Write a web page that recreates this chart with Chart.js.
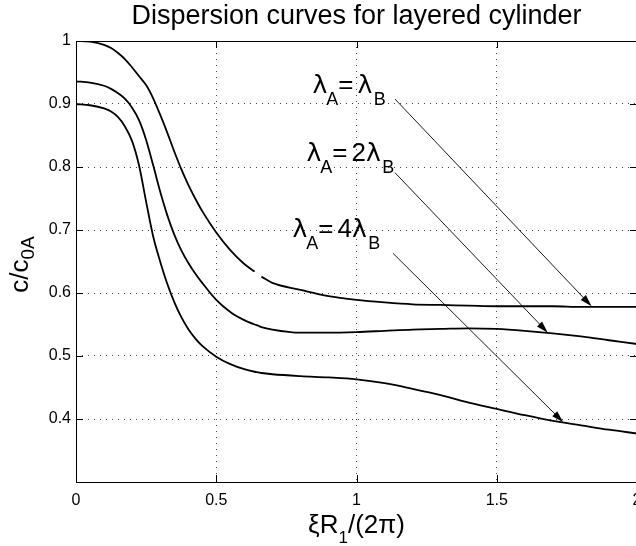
<!DOCTYPE html>
<html>
<head>
<meta charset="utf-8">
<script src="https://cdn.jsdelivr.net/npm/chart.js@4/dist/chart.umd.min.js"></script>
<style>
  html, body { margin: 0; padding: 0; background: #fff; overflow: hidden; }
  #wrap { position: absolute; left: 0; top: 0; width: 660px; height: 546px; }
  canvas { display: block; }
</style>
</head>
<body>
<div id="wrap"><canvas id="chart" width="660" height="546"></canvas></div>
<script>
// --- data ---
const xValues = [0, 0.05, 0.1, 0.125, 0.15, 0.175, 0.2, 0.225, 0.25, 0.275, 0.3, 0.325, 0.35, 0.375, 0.4, 0.425, 0.45,
                 0.5, 0.55, 0.6, 0.637, 0.65, 0.661, 0.7, 0.8, 0.9, 1.0, 1.1, 1.2, 1.3, 1.4, 1.5, 1.6, 1.7, 1.8, 1.9, 2.0];

// lambda_A = lambda_B (the plotted curve has a small break near 0.65)
const curveEqual = [1.000, 0.999, 0.994, 0.989, 0.981, 0.971, 0.958, 0.944, 0.930, 0.909, 0.883, 0.855, 0.825, 0.797, 0.772, 0.750, 0.730,
                    0.696, 0.668, 0.646, 0.634, null, 0.626, 0.616, 0.605, 0.595, 0.589, 0.585, 0.582, 0.581, 0.580, 0.579, 0.579, 0.579, 0.578, 0.578, 0.578];
// lambda_A = 2 lambda_B
const curveDouble = [0.936, 0.934, 0.929, 0.924, 0.917, 0.908, 0.894, 0.874, 0.843, 0.803, 0.761, 0.724, 0.693, 0.668, 0.648, 0.631, 0.616,
                     0.589, 0.570, 0.557, 0.550, 0.548, 0.546, 0.542, 0.537, 0.537, 0.538, 0.540, 0.542, 0.543, 0.544, 0.543, 0.540, 0.536, 0.531, 0.525, 0.519];
// lambda_A = 4 lambda_B
const curveQuad = [0.900, 0.898, 0.893, 0.888, 0.879, 0.864, 0.841, 0.802, 0.745, 0.690, 0.650, 0.615, 0.586, 0.562, 0.543, 0.528, 0.516,
                   0.499, 0.487, 0.479, 0.475, 0.474, 0.473, 0.471, 0.468, 0.466, 0.463, 0.457, 0.448, 0.438, 0.426, 0.416, 0.406, 0.397, 0.390, 0.383, 0.377];

const labelTexts = ['λA=λB', 'λA=2λB', 'λA=4λB'];
// where each label starts (data units) and where its arrow runs from / to
const labelAt = [[0.843, 0.9175], [0.822, 0.810], [0.772, 0.689]];
const arrowFrom = [[1.137, 0.908], [1.137, 0.791], [1.130, 0.663]];
const arrowTo = [[1.838, 0.579], [1.682, 0.537], [1.737, 0.395]];

const xTicks = [0, 0.5, 1, 1.5, 2];
const yTicks = [0.4, 0.5, 0.6, 0.7, 0.8, 0.9, 1];

const FONT = '"Liberation Sans", Arial, Helvetica, sans-serif';
const GREEK = '"DejaVu Sans", sans-serif';
Chart.defaults.font.family = FONT;
Chart.defaults.color = '#000';

function toPoints(ys) {
    return xValues.map((x, i) => ({ x: x, y: ys[i] }));
}

// draws text pieces side by side (size, baseline shift, extra gap before)
function drawRuns(ctx, runs, x, y, align) {
    let total = 0;
    runs.forEach(r => {
        ctx.font = r.size + 'px ' + (r.family || FONT);
        r.w = ctx.measureText(r.t).width;
        total += r.w + (r.gap || 0);
    });
    let cx = align === 'center' ? x - total / 2 : x;
    runs.forEach(r => {
        cx += r.gap || 0;
        ctx.font = r.size + 'px ' + (r.family || FONT);
        ctx.fillText(r.t, cx, y + (r.dy || 0));
        cx += r.w;
    });
}

function labelRuns(text) {
    let prev = '';
    return text.split('').map(ch => {
        let r;
        if (ch === 'A') r = { t: ch, size: 18, dy: 12, gap: -1 };
        else if (ch === 'B') r = { t: ch, size: 18, dy: 12, gap: 1.5 };
        else if (ch === 'λ') r = { t: ch, size: 25, family: GREEK };
        else r = { t: ch, size: 26 };
        if (prev === '=') r.gap = 4;
        prev = ch;
        return r;
    });
}

const overlay = {
    id: 'overlay',
    afterDraw(chart) {
        const { ctx, chartArea: a, scales: { x, y } } = chart;
        ctx.save();
        ctx.strokeStyle = '#000';
        ctx.fillStyle = '#000';

        // box + inward ticks
        ctx.lineWidth = 1;
        ctx.strokeRect(a.left + 0.5, a.top + 0.5, a.right - a.left, a.bottom - a.top);
        ctx.beginPath();
        xTicks.slice(1, -1).forEach(v => {
            const px = Math.round(x.getPixelForValue(v)) + 0.5;
            ctx.moveTo(px, a.bottom); ctx.lineTo(px, a.bottom - 7);
            ctx.moveTo(px, a.top); ctx.lineTo(px, a.top + 7);
        });
        yTicks.slice(0, -1).forEach(v => {
            const py = Math.round(y.getPixelForValue(v)) + 0.5;
            ctx.moveTo(a.left, py); ctx.lineTo(a.left + 7, py);
            ctx.moveTo(a.right, py); ctx.lineTo(a.right - 7, py);
        });
        ctx.stroke();

        // arrows
        arrowFrom.forEach((p, i) => {
            const x0 = x.getPixelForValue(p[0]), y0 = y.getPixelForValue(p[1]);
            const x1 = x.getPixelForValue(arrowTo[i][0]), y1 = y.getPixelForValue(arrowTo[i][1]);
            const ang = Math.atan2(y1 - y0, x1 - x0);
            ctx.lineWidth = 0.9;
            ctx.beginPath();
            ctx.moveTo(x0, y0);
            ctx.lineTo(x1 - 10 * Math.cos(ang), y1 - 10 * Math.sin(ang));
            ctx.stroke();
            ctx.beginPath();
            ctx.moveTo(x1, y1);
            ctx.lineTo(x1 - 12 * Math.cos(ang) + 3.5 * Math.sin(ang), y1 - 12 * Math.sin(ang) - 3.5 * Math.cos(ang));
            ctx.lineTo(x1 - 12 * Math.cos(ang) - 3.5 * Math.sin(ang), y1 - 12 * Math.sin(ang) + 3.5 * Math.cos(ang));
            ctx.closePath();
            ctx.fill();
        });

        // curve labels
        ctx.textAlign = 'left';
        ctx.textBaseline = 'alphabetic';
        labelTexts.forEach((t, i) => {
            drawRuns(ctx, labelRuns(t), x.getPixelForValue(labelAt[i][0]), y.getPixelForValue(labelAt[i][1]));
        });

        // axis titles
        const midX = (a.left + a.right) / 2;
        drawRuns(ctx, [{ t: 'ξR', size: 26 }, { t: '1', size: 17, dy: 10 }, { t: '/(2π)', size: 26 }],
            midX, 533, 'center');

        ctx.translate(28, (a.top + a.bottom) / 2 + 3);
        ctx.rotate(-Math.PI / 2);
        drawRuns(ctx, [{ t: 'c/c', size: 26 }, { t: '0A', size: 19, dy: 6 }], 0, 0, 'center');
        ctx.restore();
    }
};

const lineStyle = {
    borderColor: '#000',
    borderWidth: 1.8,
    pointRadius: 0,
    fill: false,
    spanGaps: false,
    cubicInterpolationMode: 'monotone'
};

new Chart(document.getElementById('chart'), {
    type: 'line',
    data: {
        datasets: [
            Object.assign({ label: 'λA = λB', data: toPoints(curveEqual) }, lineStyle),
            Object.assign({ label: 'λA = 2λB', data: toPoints(curveDouble) }, lineStyle),
            Object.assign({ label: 'λA = 4λB', data: toPoints(curveQuad) }, lineStyle)
        ]
    },
    options: {
        responsive: false,
        animation: false,
        layout: { padding: { left: 0, right: 23, top: 0, bottom: 0 } },
        plugins: {
            legend: { display: false },
            tooltip: { enabled: false },
            title: {
                display: true,
                fullSize: false,
                text: 'Dispersion curves for layered cylinder',
                font: { size: 27, weight: 'normal' },
                color: '#000',
                padding: { top: 0.7, bottom: 7.9 }
            }
        },
        scales: {
            x: {
                type: 'linear',
                min: 0,
                max: 2,
                afterBuildTicks: scale => { scale.ticks = xTicks.map(v => ({ value: v })); },
                afterFit: scale => { scale.height = 64; },
                ticks: {
                    font: { size: 16 },
                    padding: 9,
                    maxRotation: 0,
                    callback: v => String(v)
                },
                grid: { color: '#444', lineWidth: 1, drawTicks: false },
                border: { display: false, dash: [1, 5] }
            },
            y: {
                type: 'linear',
                min: 0.3,
                max: 1,
                afterBuildTicks: scale => { scale.ticks = [0.3].concat(yTicks).map(v => ({ value: v })); },
                afterFit: scale => { scale.width = 76; },
                ticks: {
                    font: { size: 16 },
                    padding: 5,
                    callback: v => v < 0.35 ? '' : String(+v.toFixed(1))
                },
                grid: { color: '#444', lineWidth: 1, drawTicks: false },
                border: { display: false, dash: [1, 5] }
            }
        }
    },
    plugins: [overlay]
});
</script>
</body>
</html>
